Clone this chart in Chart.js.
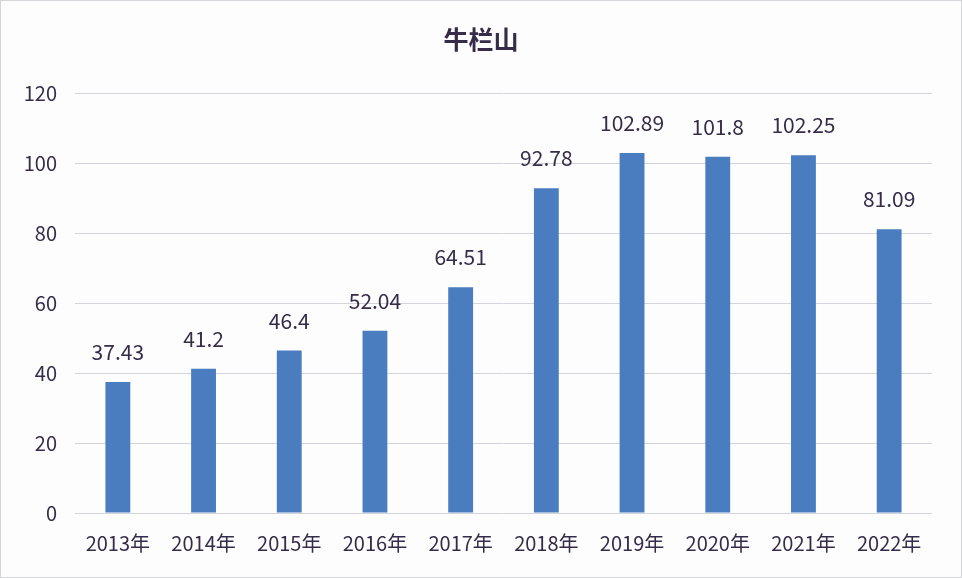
<!DOCTYPE html>
<html>
<head>
<meta charset="utf-8">
<script src="https://cdn.jsdelivr.net/npm/chart.js@4/dist/chart.umd.min.js"></script>
<style>
    html, body {
        margin: 0;
        padding: 0;
        background: #ffffff;
    }
    #wrap {
        position: relative;
        width: 960px;
        height: 576px;
        border: 1px solid #d4d6da;
        background: #fdfdfe;
    }
</style>
</head>
<body>
<div id="wrap"><canvas id="chart" width="960" height="576"></canvas></div>
<script>
// chart data
const years = ["2013年", "2014年", "2015年", "2016年", "2017年", "2018年", "2019年", "2020年", "2021年", "2022年"];
const values = [37.43, 41.2, 46.4, 52.04, 64.51, 92.78, 102.89, 101.8, 102.25, 81.09];
const valueLabels = ["37.43", "41.2", "46.4", "52.04", "64.51", "92.78", "102.89", "101.8", "102.25", "81.09"];

const textColor = "#362b48";
const fontFamily = "'Noto Sans CJK SC', 'Noto Sans', sans-serif";

// draws the number above each bar
const barLabels = {
    id: "barLabels",
    afterDatasetsDraw(chart) {
        const ctx = chart.ctx;
        const meta = chart.getDatasetMeta(0);
        ctx.save();
        ctx.fillStyle = textColor;
        ctx.font = "21px " + fontFamily;
        ctx.textAlign = "center";
        ctx.textBaseline = "middle";
        meta.data.forEach((bar, i) => {
            ctx.fillText(valueLabels[i], bar.x, bar.y - 30);
        });
        ctx.restore();
    },
};

// title box spans the whole canvas so the title is centred on the picture
const centerTitle = {
    id: "centerTitle",
    afterLayout(chart) {
        const t = chart.titleBlock;
        if (!t) {
            return;
        }
        t.left = 0;
        t.right = chart.width;
        t.width = chart.width;
    },
};

new Chart(document.getElementById("chart"), {
    type: "bar",
    data: {
        labels: years,
        datasets: [
            {
                data: values,
                backgroundColor: "#4a7dc0",
                borderWidth: 0,
                categoryPercentage: 1,
                barPercentage: 0.29,
            },
        ],
    },
    options: {
        responsive: false,
        animation: false,
        layout: {
            padding: { left: 0, right: 29, top: 0, bottom: 0 },
        },
        plugins: {
            legend: { display: false },
            tooltip: { enabled: false },
            title: {
                display: true,
                text: "牛栏山",
                color: textColor,
                font: { family: fontFamily, size: 25, weight: "bold" },
                padding: { top: 23, bottom: 39 },
            },
        },
        scales: {
            y: {
                min: 0,
                max: 120,
                ticks: {
                    stepSize: 20,
                    color: textColor,
                    padding: 18,
                    font: { family: fontFamily, size: 20 },
                },
                grid: {
                    color: "#d3d5da",
                    lineWidth: 1,
                    drawTicks: false,
                },
                border: { display: false },
                afterFit(scale) {
                    scale.width = 74;
                },
            },
            x: {
                ticks: {
                    color: textColor,
                    padding: 18,
                    font: { family: fontFamily, size: 20 },
                    maxRotation: 0,
                },
                grid: { display: false, drawTicks: false },
                border: { display: false },
                afterFit(scale) {
                    scale.height = 64;
                },
            },
        },
    },
    plugins: [barLabels, centerTitle],
});
</script>
</body>
</html>
